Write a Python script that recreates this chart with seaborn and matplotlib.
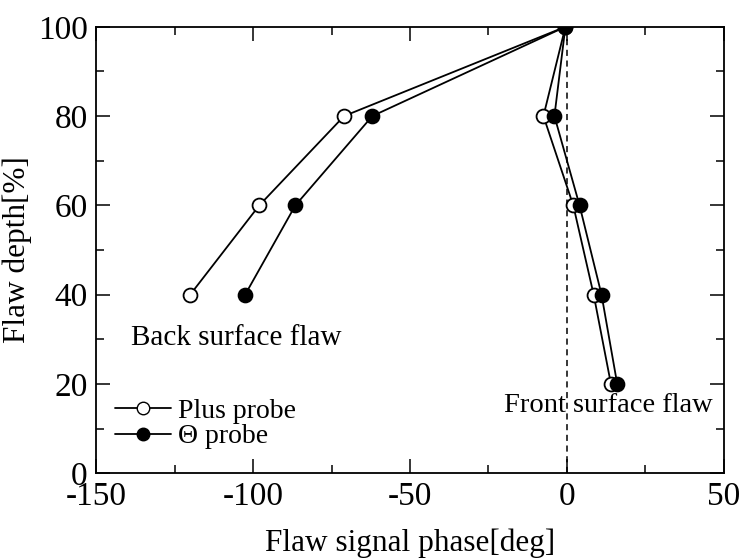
import matplotlib
matplotlib.use("Agg")
import matplotlib.pyplot as plt
import numpy as np
import pandas as pd
import seaborn as sns
from matplotlib.ticker import MultipleLocator
from matplotlib.lines import Line2D

# Flaw depth [%] walked back-surface -> top -> front-surface
DEPTH = [40, 60, 80, 100, 80, 60, 40, 20]
PHASE_PLUS = [-120, -98, -71, -0.5, -7.5, 2, 8.5, 14]
PHASE_THETA = [-102.5, -86.5, -62, -0.5, -4, 4, 11, 16]

SERIES = {"Plus probe": PHASE_PLUS, "\u0398 probe": PHASE_THETA}
FACE = {"Plus probe": "white", "\u0398 probe": "black"}

sns.set_style("ticks")
plt.rcParams["font.family"] = ["Liberation Serif", "DejaVu Serif"]
plt.rcParams["axes.unicode_minus"] = False
plt.rcParams["text.color"] = "black"
plt.rcParams["axes.labelcolor"] = "black"
plt.rcParams["xtick.color"] = "black"
plt.rcParams["ytick.color"] = "black"

fig = plt.figure(figsize=(7.41, 5.58), dpi=100)
ax = fig.add_axes([0.1296, 0.152, 0.8474, 0.800])

# zero-phase reference
ax.axvline(0, ymin=0, ymax=1, color="black", ls=(0, (4, 3)), lw=1.1, zorder=1)

for name, phase in SERIES.items():
    df = pd.DataFrame({"phase": phase, "depth": DEPTH})
    sns.lineplot(data=df, x="phase", y="depth", sort=False, estimator=None,
                 color="black", lw=1.3, marker="o", markersize=10,
                 markerfacecolor=FACE[name], markeredgecolor="black",
                 markeredgewidth=1.3, ax=ax, zorder=3, legend=False)

ax.set_xlim(-150, 50)
ax.set_ylim(0, 100)
ax.xaxis.set_major_locator(MultipleLocator(50))
ax.xaxis.set_minor_locator(MultipleLocator(25))
ax.yaxis.set_major_locator(MultipleLocator(20))
ax.yaxis.set_minor_locator(MultipleLocator(10))
ax.tick_params(which="both", direction="in", top=True, right=True,
               labelsize=24, width=1.1, color="black", pad=6)
ax.tick_params(which="major", length=10)
ax.tick_params(which="minor", length=6)
for s in ax.spines.values():
    s.set_linewidth(1.3)
    s.set_color("black")

ax.set_xlabel("Flaw signal phase[deg]", fontsize=22.5, labelpad=12)
ax.set_ylabel("Flaw depth[%]", fontsize=22.5, labelpad=4)

ax.text(-139, 30.3, "Back surface flaw", fontsize=21, ha="left", va="center")
ax.text(-20, 15.2, "Front surface flaw", fontsize=20.5, ha="left", va="center")

handles = [Line2D([], [], color="black", lw=1.3, marker="o", markersize=9,
                  markerfacecolor=FACE[n], markeredgecolor="black")
           for n in SERIES]
ax.legend(handles, list(SERIES.keys()), loc="lower left",
          bbox_to_anchor=(0.0, 0.01), frameon=False, fontsize=20,
          handlelength=2.0, handletextpad=0.25, labelspacing=0.0,
          borderpad=0.2)

fig.savefig("out.png", dpi=100)
